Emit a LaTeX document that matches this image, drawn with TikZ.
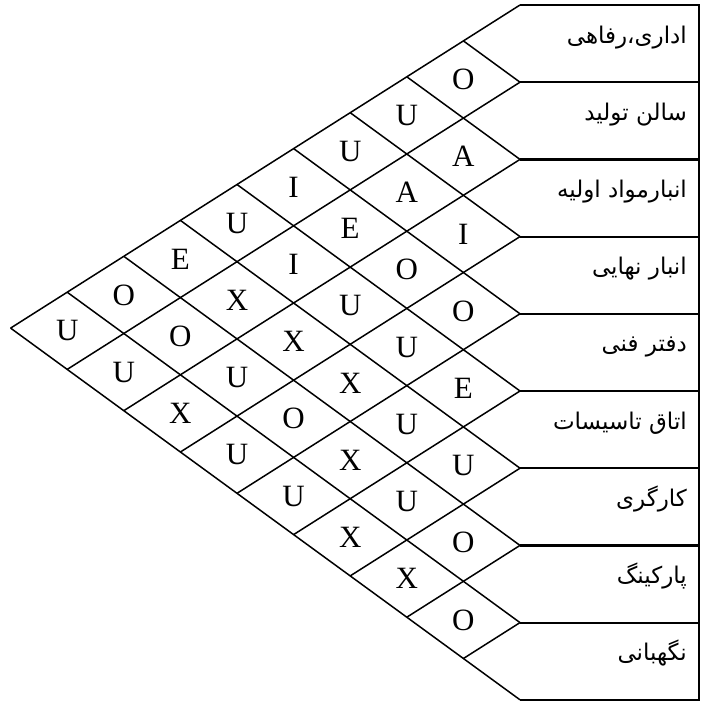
\documentclass[tikz,border=0pt]{standalone}
\usepackage{fontspec}
\setmainfont{Liberation Serif}
\newfontfamily\fa[Script=Arabic]{DejaVu Sans}
\TeXXeTstate=1
\begin{document}
\begin{tikzpicture}[x=1pt,y=-1pt,
  grid/.style={line width=1.5pt},
  frame/.style={line width=2.2pt},
  rel/.style={font=\fontsize{31}{32}\selectfont, inner sep=0pt},
  dept/.style={font=\fa\fontsize{23}{26}\selectfont, anchor=base east, inner sep=0pt}]
\useasboundingbox (0,0) rectangle (707,702);
% lattice steps: s runs down-left, t runs down-right
\def\sx{-56.6}\def\sy{35.9}\def\tx{56.6}\def\ty{41.3}
\foreach \a in {0,...,9}{
  \foreach \b in {\a,...,9}{
    \coordinate (p\a\b) at ({520+\b*\sx+\a*\tx},{5+\b*\sy+\a*\ty});
  }
}
\coordinate (edge) at (699,0);
% diamond grid
\foreach \a in {0,...,8} \draw[grid] (p\a\a) -- (p\a9);
\foreach \b in {1,...,9} \draw[grid] (p0\b) -- (p\b\b);
% department column
\draw[frame] (p00) -- (p00 -| edge) -- (p99 -| edge) -- (p99);
\foreach \k in {1,...,8} \draw[frame] (p\k\k) -- (p\k\k -| edge);
% closeness ratings
\foreach \i/\j/\r in {0/1/O,0/2/U,0/3/U,0/4/I,0/5/U,0/6/E,0/7/O,0/8/U,
  1/2/A,1/3/A,1/4/E,1/5/I,1/6/X,1/7/O,1/8/U,
  2/3/I,2/4/O,2/5/U,2/6/X,2/7/U,2/8/X,
  3/4/O,3/5/U,3/6/X,3/7/O,3/8/U,
  4/5/E,4/6/U,4/7/X,4/8/U,
  5/6/U,5/7/U,5/8/X,
  6/7/O,6/8/X,
  7/8/O}
  \node[rel] (c\i\j) at ({520+(\j+0.5)*\sx+(\i+0.5)*\tx},{5+(\j+0.5)*\sy+(\i+0.5)*\ty}) {\r};
% department names
\foreach \k/\lbl in {0/اداری،رفاهی,1/سالن تولید,2/انبارمواد اولیه,3/انبار نهایی,
  4/دفتر فنی,5/اتاق تاسیسات,6/کارگری,7/پارکینگ,8/نگهبانی}
  \node[dept] (d\k) at (687,{43+77.2*\k}) {\beginR\lbl\endR};
\end{tikzpicture}
\end{document}
